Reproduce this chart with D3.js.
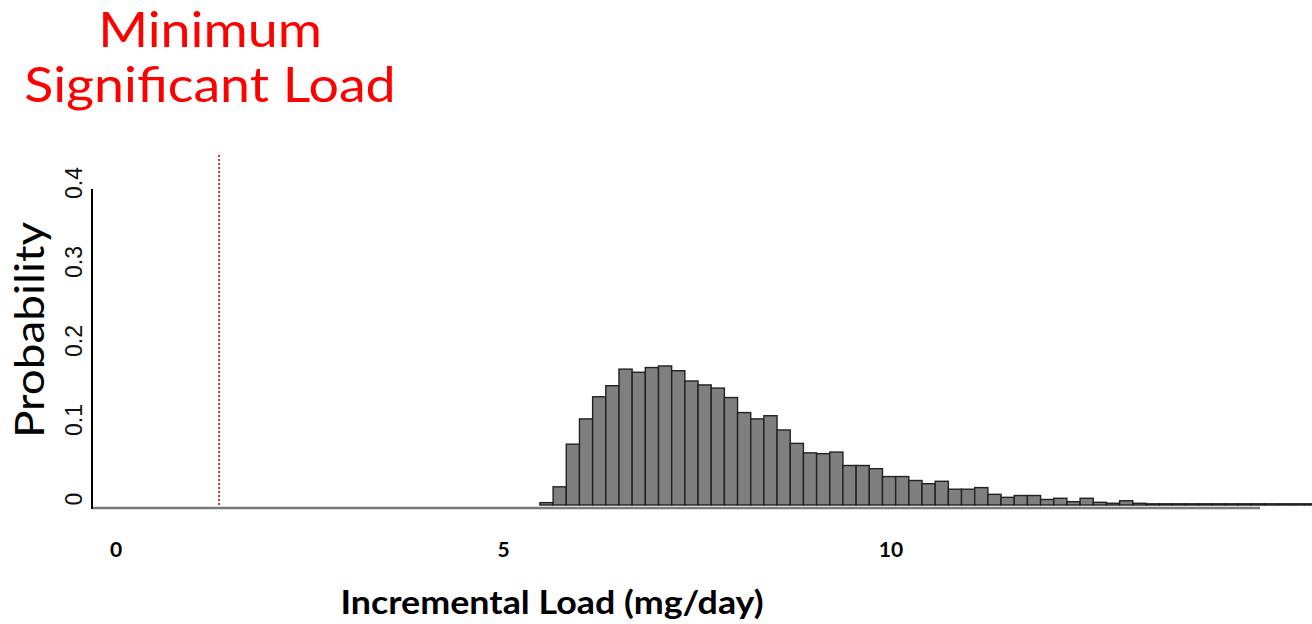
<!DOCTYPE html>
<html>
<head>
<meta charset="utf-8">
<script src="https://cdn.jsdelivr.net/npm/d3@7"></script>
<style>
  html, body { margin: 0; padding: 0; background: #fff; }
  svg { display: block; }
</style>
</head>
<body>
<svg id="chart" width="1312" height="624"></svg>
<script>
// Histogram of simulated incremental load (mg/day)
const binStart = 5.47;      // left edge of the first bin
const binWidth = 0.17;      // width of every bin
const probabilities = [
  0.003, 0.023, 0.077, 0.109, 0.137, 0.151, 0.172, 0.168, 0.174, 0.176,
  0.170, 0.157, 0.152, 0.148, 0.136, 0.117, 0.109, 0.113, 0.095, 0.078,
  0.066, 0.065, 0.067, 0.050, 0.050, 0.046, 0.036, 0.036, 0.031, 0.027,
  0.030, 0.020, 0.020, 0.022, 0.0135, 0.0097, 0.012, 0.012, 0.007, 0.0085,
  0.0042, 0.0085, 0.0034, 0.0022, 0.0054, 0.0022, 0.0015, 0.0015, 0.0015, 0.0015,
  0.0015, 0.0015, 0.0015, 0.0015, 0.0015, 0.0015, 0.0015, 0.0015, 0.0015
];
const minSignificantLoad = 1.33;
const xTicks = [0, 5, 10];
const yTicks = [0, 0.1, 0.2, 0.3, 0.4];
const yTickLabels = ["0", "0.1", "0.2", "0.3", "0.4"];
const titleLines = ["Minimum", "Significant Load"];
const xTitle = "Incremental Load (mg/day)";
const yTitle = "Probability";

const svg = d3.select("#chart");

const x = d3.scaleLinear().domain([0, 10]).range([116, 891]);
const y = d3.scaleLinear().domain([0, 0.4]).range([505, 189]);

const bins = probabilities.map((p, i) => ({
  x0: binStart + i * binWidth,
  x1: binStart + (i + 1) * binWidth,
  p
}));

// bars
svg.append("g")
  .selectAll("rect")
  .data(bins)
  .join("rect")
  .attr("x", d => x(d.x0))
  .attr("y", d => y(d.p))
  .attr("width", d => x(d.x1) - x(d.x0))
  .attr("height", d => y(0) - y(d.p))
  .attr("fill", "#7f7f7f")
  .attr("stroke", "#222")
  .attr("stroke-width", 1.4);

// horizontal baseline (grey)
svg.append("line")
  .attr("x1", 92).attr("x2", 1260)
  .attr("y1", y(0) + 3).attr("y2", y(0) + 3)
  .attr("stroke", "#7a7a7a")
  .attr("stroke-width", 2.5);

// vertical axis line
svg.append("line")
  .attr("x1", 92).attr("x2", 92)
  .attr("y1", y(0.4)).attr("y2", y(0) + 4)
  .attr("stroke", "#000")
  .attr("stroke-width", 2);

// y tick labels, rotated along the axis
svg.append("g")
  .selectAll("text")
  .data(yTicks)
  .join("text")
  .attr("transform", d => `translate(82,${y(d) - 6}) rotate(-90)`)
  .attr("text-anchor", "middle")
  .attr("font-family", "Liberation Sans, Arial, sans-serif")
  .attr("font-size", 23)
  .attr("fill", "#111")
  .text((d, i) => yTickLabels[i]);

// x tick labels
svg.append("g")
  .selectAll("text")
  .data(xTicks)
  .join("text")
  .attr("x", d => x(d))
  .attr("y", 557)
  .attr("text-anchor", "middle")
  .attr("font-family", "Lato, sans-serif")
  .attr("font-weight", "bold")
  .attr("font-size", 21)
  .attr("fill", "#000")
  .text(d => d);

// minimum significant load marker
svg.append("line")
  .attr("x1", x(minSignificantLoad)).attr("x2", x(minSignificantLoad))
  .attr("y1", 155).attr("y2", y(0) + 2)
  .attr("stroke", "#e00000")
  .attr("stroke-width", 1.6)
  .attr("stroke-dasharray", "2,2");

// red heading
svg.append("g")
  .attr("transform", "translate(210,0) scale(1.12,1)")
  .selectAll("text")
  .data(titleLines)
  .join("text")
  .attr("x", 0)
  .attr("y", (d, i) => 47 + i * 55)
  .attr("text-anchor", "middle")
  .attr("font-family", "Lato, sans-serif")
  .attr("font-size", 48)
  .attr("fill", "#ff0000")
  .text(d => d);

// x axis title
svg.append("text")
  .attr("transform", "translate(552,614) scale(1.12,1)")
  .attr("text-anchor", "middle")
  .attr("font-family", "Lato, sans-serif")
  .attr("font-weight", "bold")
  .attr("font-size", 32)
  .attr("fill", "#000")
  .text(xTitle);

// y axis title
svg.append("text")
  .attr("transform", "translate(44,330) rotate(-90) scale(1.12,1)")
  .attr("text-anchor", "middle")
  .attr("font-family", "Lato, sans-serif")
  .attr("font-size", 41)
  .attr("fill", "#000")
  .text(yTitle);
</script>
</body>
</html>
